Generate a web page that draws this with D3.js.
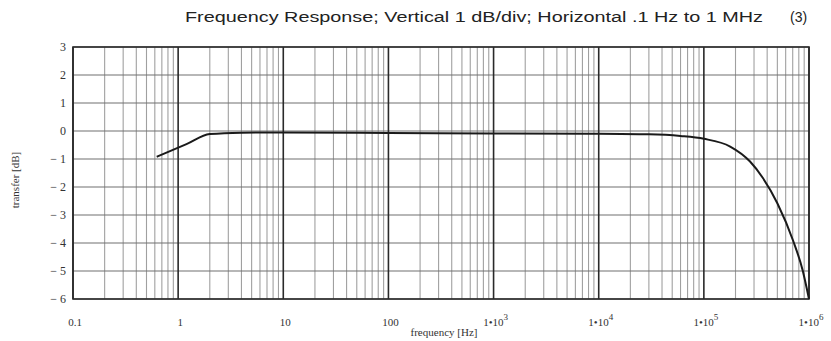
<!DOCTYPE html>
<html>
<head>
<meta charset="utf-8">
<script src="https://cdn.jsdelivr.net/npm/d3@7"></script>
<style>
  body { margin: 0; background: #fff; }
  svg { display: block; }
</style>
</head>
<body>
<div id="chart"></div>
<script>
// Frequency response, log x axis 0.1 Hz .. 1 MHz

const freqHz = [0.625, 1.2, 2.0, 4, 10, 100, 1000, 10000, 30000, 60000, 100000, 178000, 275000, 363000, 500000, 708000, 870000, 1000000];
const gainDb = [-0.92, -0.47, -0.11, -0.06, -0.05, -0.07, -0.09, -0.1, -0.12, -0.18, -0.28, -0.555, -1.09, -1.67, -2.58, -3.93, -4.97, -6.0];

const yTicks = [3, 2, 1, 0, -1, -2, -3, -4, -5, -6];
const decades = [0.1, 1, 10, 100, 1e3, 1e4, 1e5, 1e6];
const decadeLabels = [
  {base: "0.1", sup: ""},
  {base: "1", sup: ""},
  {base: "10", sup: ""},
  {base: "100", sup: ""},
  {base: "1\u202210", sup: "3"},
  {base: "1\u202210", sup: "4"},
  {base: "1\u202210", sup: "5"},
  {base: "1\u202210", sup: "6"}
];
const titleText = "Frequency Response; Vertical 1 dB/div; Horizontal .1 Hz to 1 MHz";

const width = 831, height = 341,
      margin = ({top: 47, right: 22, bottom: 42, left: 73});

const svg = d3.select("#chart")
  .append("svg")
  .attr("width", width)
  .attr("height", height);

const x = d3.scaleLog()
  .domain([0.1, 1e6])
  .range([margin.left, width - margin.right]);

const y = d3.scaleLinear()
  .domain([-6, 3])
  .range([height - margin.bottom, margin.top]);

// minor vertical lines 2..9 per decade
let minor = [];
for (let d of decades.slice(0, -1)) {
  for (let k = 2; k <= 9; k++) minor.push(d * k);
}

svg.append("g")
  .selectAll("line")
  .data(minor)
  .join("line")
  .attr("x1", d => x(d)).attr("x2", d => x(d))
  .attr("y1", y(3)).attr("y2", y(-6))
  .attr("stroke", "#a0a0a0")
  .attr("stroke-width", 1.1);

// horizontal dB lines
svg.append("g")
  .selectAll("line")
  .data(yTicks)
  .join("line")
  .attr("x1", x(0.1)).attr("x2", x(1e6))
  .attr("y1", d => y(d)).attr("y2", d => y(d))
  .attr("stroke", "#707070")
  .attr("stroke-width", 1.1);

// decade lines
svg.append("g")
  .selectAll("line")
  .data(decades)
  .join("line")
  .attr("x1", d => x(d)).attr("x2", d => x(d))
  .attr("y1", y(3)).attr("y2", y(-6))
  .attr("stroke", "#2a2a2a")
  .attr("stroke-width", 1.6);

// frame
svg.append("rect")
  .attr("x", x(0.1)).attr("y", y(3))
  .attr("width", x(1e6) - x(0.1))
  .attr("height", y(-6) - y(3))
  .attr("fill", "none")
  .attr("stroke", "#2a2a2a")
  .attr("stroke-width", 1.6);

// response curve
const line = d3.line()
  .x((d, i) => x(freqHz[i]))
  .y(d => y(d))
  .curve(d3.curveMonotoneX);

svg.append("path")
  .datum(gainDb)
  .attr("fill", "none")
  .attr("stroke", "#1a1a1a")
  .attr("stroke-width", 2)
  .attr("d", line);

// y tick labels
svg.append("g")
  .selectAll("text")
  .data(yTicks)
  .join("text")
  .attr("x", margin.left - 7)
  .attr("y", d => y(d) + 4)
  .attr("text-anchor", "end")
  .attr("font-family", "Liberation Serif, serif")
  .attr("font-size", 12)
  .attr("fill", "#333")
  .text(d => d < 0 ? "\u2212 " + Math.abs(d) : d);

// x tick labels
const xl = svg.append("g")
  .selectAll("text")
  .data(decadeLabels)
  .join("text")
  .attr("x", (d, i) => x(decades[i]) + 2)
  .attr("y", height - margin.bottom + 27)
  .attr("text-anchor", "middle")
  .attr("font-family", "Liberation Serif, serif")
  .attr("font-size", 11)
  .attr("fill", "#333");

xl.append("tspan").text(d => d.base);
xl.append("tspan")
  .attr("dy", -6)
  .attr("font-size", 9)
  .text(d => d.sup);

// axis titles
svg.append("text")
  .attr("x", 444)
  .attr("y", 336)
  .attr("text-anchor", "middle")
  .attr("font-family", "Liberation Serif, serif")
  .attr("font-size", 11)
  .attr("fill", "#333")
  .text("frequency [Hz]");

svg.append("text")
  .attr("transform", "translate(19,180) rotate(-90)")
  .attr("text-anchor", "middle")
  .attr("font-family", "Liberation Serif, serif")
  .attr("font-size", 11)
  .attr("fill", "#333")
  .text("transfer [dB]");

// chart title, stretched to its width in the reference
svg.append("text")
  .attr("x", 185)
  .attr("y", 22)
  .attr("font-family", "Liberation Sans, Arial, sans-serif")
  .attr("font-size", 14)
  .attr("fill", "#222")
  .attr("textLength", 578)
  .attr("lengthAdjust", "spacingAndGlyphs")
  .text(titleText);

svg.append("text")
  .attr("x", 790)
  .attr("y", 22)
  .attr("font-family", "Liberation Sans, Arial, sans-serif")
  .attr("font-size", 14)
  .attr("fill", "#222")
  .text("(3)");
</script>
</body>
</html>
